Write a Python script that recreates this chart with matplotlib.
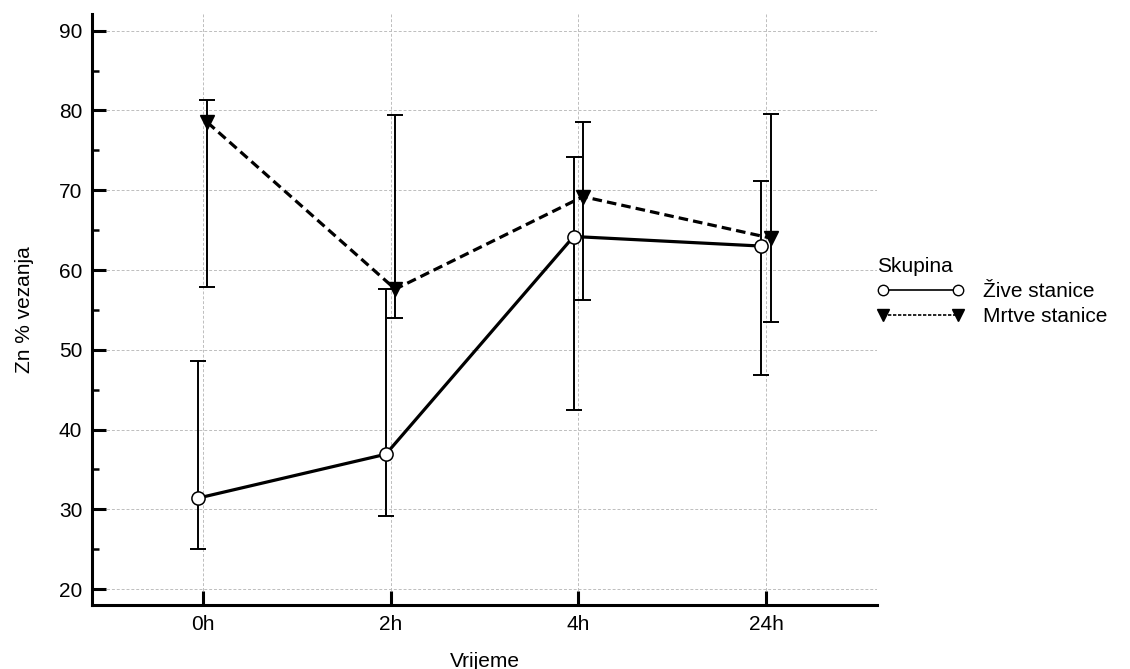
import numpy as np
import matplotlib.pyplot as plt
from matplotlib.lines import Line2D
from matplotlib.ticker import MultipleLocator

plt.rcParams['font.family'] = ['Liberation Sans', 'DejaVu Sans']

# data
times = ['0h', '2h', '4h', '24h']
zive = [31.4, 36.9, 64.2, 63.0]
zive_lo = [25.0, 29.2, 42.5, 46.8]
zive_hi = [48.6, 57.6, 74.2, 71.2]
mrtve = [78.5, 57.6, 69.2, 64.0]
mrtve_lo = [57.9, 54.0, 56.2, 53.5]
mrtve_hi = [81.3, 79.4, 78.6, 79.5]

x = np.arange(len(times))
dodge = 0.025
fs = 15

fig = plt.figure(figsize=(11.3, 6.69), dpi=100)
ax = fig.add_axes([0.0814, 0.0957, 0.6946, 0.8834])

# grid first, under everything
ax.grid(True, which='major', color='#bdbdbd', linestyle=(0, (3, 2)), linewidth=0.7)
ax.set_axisbelow(True)

# error bars
z_err = [np.array(zive) - np.array(zive_lo), np.array(zive_hi) - np.array(zive)]
m_err = [np.array(mrtve) - np.array(mrtve_lo), np.array(mrtve_hi) - np.array(mrtve)]
ax.errorbar(x - dodge, zive, yerr=z_err, fmt='none', ecolor='black',
            elinewidth=1.4, capsize=5.5, capthick=1.4, zorder=2)
ax.errorbar(x + dodge, mrtve, yerr=m_err, fmt='none', ecolor='black',
            elinewidth=1.4, capsize=5.5, capthick=1.4, zorder=2)

# lines
ax.plot(x - dodge, zive, color='black', linewidth=2.3, linestyle='-',
        marker='o', markersize=9.5, markerfacecolor='white',
        markeredgecolor='black', markeredgewidth=1.1, zorder=4)
ax.plot(x + dodge, mrtve, color='black', linewidth=2.3, linestyle=(0, (3, 1.6)),
        marker='v', markersize=10.5, markerfacecolor='black',
        markeredgecolor='black', zorder=3)

ax.set_xlim(-0.59, 3.59)
ax.set_ylim(18, 92.1)
ax.set_xticks(x)
ax.set_xticklabels(times)
ax.yaxis.set_major_locator(MultipleLocator(10))
ax.yaxis.set_minor_locator(MultipleLocator(5))
ax.set_yticks(np.arange(20, 91, 10))

for s in ['top', 'right']:
    ax.spines[s].set_visible(False)
for s in ['left', 'bottom']:
    ax.spines[s].set_linewidth(2.2)

ax.tick_params(axis='both', which='major', direction='in', length=10,
               width=2.2, labelsize=fs, pad=7)
ax.tick_params(axis='y', which='minor', direction='in', length=5, width=1.8)
ax.tick_params(axis='x', which='minor', bottom=False)

ax.set_xlabel('Vrijeme', fontsize=fs, labelpad=13)
ax.set_ylabel('Zn % vezanja', fontsize=fs, labelpad=18)

handles = [
    Line2D([], [], color='black', linewidth=1.2, linestyle='-', marker='o',
           markersize=7.5, markerfacecolor='white', markeredgecolor='black'),
    Line2D([], [], color='black', linewidth=1.2, linestyle=(0, (2, 1)),
           marker='v', markersize=9, markerfacecolor='black',
           markeredgecolor='black'),
]
leg = ax.legend(handles, ['Žive stanice', 'Mrtve stanice'], title='Skupina',
                loc='center left', bbox_to_anchor=(1.0, 0.53), frameon=False,
                fontsize=fs, title_fontsize=fs, numpoints=2,
                handlelength=4.2, handletextpad=0.9, borderpad=0,
                borderaxespad=0, labelspacing=0.3, alignment='left')

fig.savefig('out.png', dpi=100)
